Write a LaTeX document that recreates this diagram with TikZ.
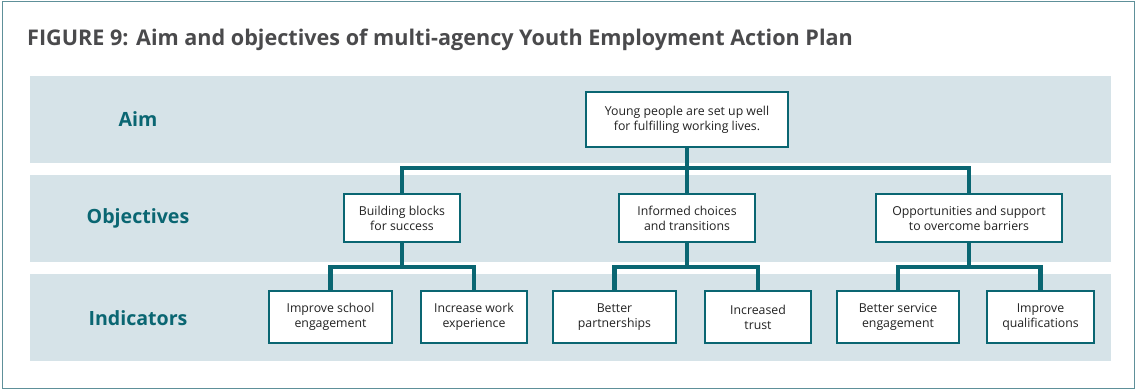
\documentclass[tikz,border=0pt]{standalone}
\usepackage{fontspec}
\setmainfont{Open Sans}
\definecolor{teal}{HTML}{0A6672}
\definecolor{band}{HTML}{D6E3E8}
\definecolor{frame}{HTML}{5E9099}
\definecolor{titlegrey}{HTML}{4A4A4C}
\definecolor{boxtext}{HTML}{222222}
\tikzset{
  band/.style={fill=band, draw=none},
  rowlabel/.style={text=teal, font=\fontsize{19.6}{22}\selectfont\bfseries},
  planbox/.style={draw=teal, line width=2.6pt, fill=white, text=boxtext,
    align=center, inner sep=0pt, font=\fontsize{12.3}{14.8}\selectfont},
  conn/.style={draw=teal, line width=4.5pt}
}
\begin{document}
\begin{tikzpicture}[x=1pt, y=-1pt]
\useasboundingbox (0,0) rectangle (1136,390);
% outer frame
\draw[frame, line width=1.5pt] (2.5,1.5) rectangle (1134.5,388.5);
% title
\node[anchor=west, text=titlegrey, font=\fontsize{21.6}{24}\selectfont\bfseries, inner sep=0pt]
  (title) at (27,40) {FIGURE 9: Aim and objectives of multi-agency Youth Employment Action Plan};
% row bands
\fill[band] (30,76) rectangle (1111,163);
\fill[band] (30,175) rectangle (1111,262);
\fill[band] (30,274) rectangle (1111,361);
% row labels
\node[rowlabel] (laim) at (138,119) {Aim};
\node[rowlabel] (lobj) at (138,218) {Objectives};
\node[rowlabel] (lind) at (138,318) {Indicators};
% bus levels
\coordinate (bus1) at (0,168);
\coordinate (bus2) at (0,267);
% aim
\node[planbox, minimum width=202pt, minimum height=55pt] (aim) at (687,119.5)
  {Young people are set up well\\for fulfilling working lives.};
% objectives
\node[planbox, minimum width=116pt, minimum height=48pt] (o1) at (402,218)
  {Building blocks\\for success};
\node[planbox, minimum width=136pt, minimum height=48pt] (o2) at (687,218)
  {Informed choices\\and transitions};
\node[planbox, minimum width=186pt, minimum height=48pt] (o3) at (969,218)
  {Opportunities and support\\to overcome barriers};
% indicators
\node[planbox, minimum width=123pt, minimum height=52pt] (iA) at (330.5,317)
  {Improve school\\engagement};
\node[planbox, minimum width=106pt, minimum height=52pt] (iB) at (474,317)
  {Increase work\\experience};
\node[planbox, minimum width=123pt, minimum height=52pt] (iC) at (614.5,317)
  {Better\\partnerships};
\node[planbox, minimum width=106pt, minimum height=52pt] (iD) at (758,317)
  {Increased\\trust};
\node[planbox, minimum width=122pt, minimum height=52pt] (iE) at (898,317)
  {Better service\\engagement};
\node[planbox, minimum width=107pt, minimum height=52pt] (iF) at (1040.5,317)
  {Improve\\qualifications};
% connectors: aim to objectives
\draw[conn] (aim.south) -- (o2.north);
\draw[conn] (o1.north) -- (o1.north |- bus1) -| (o3.north);
% connectors: objectives to indicators
\draw[conn] (o1.south) -- (o1.south |- bus2);
\draw[conn] (iA.north) -- (iA.north |- bus2) -| (iB.north);
\draw[conn] (o2.south) -- (o2.south |- bus2);
\draw[conn] (iC.north) -- (iC.north |- bus2) -| (iD.north);
\draw[conn] (o3.south) -- (o3.south |- bus2);
\draw[conn] (iE.north) -- (iE.north |- bus2) -| (iF.north);
\end{tikzpicture}
\end{document}
